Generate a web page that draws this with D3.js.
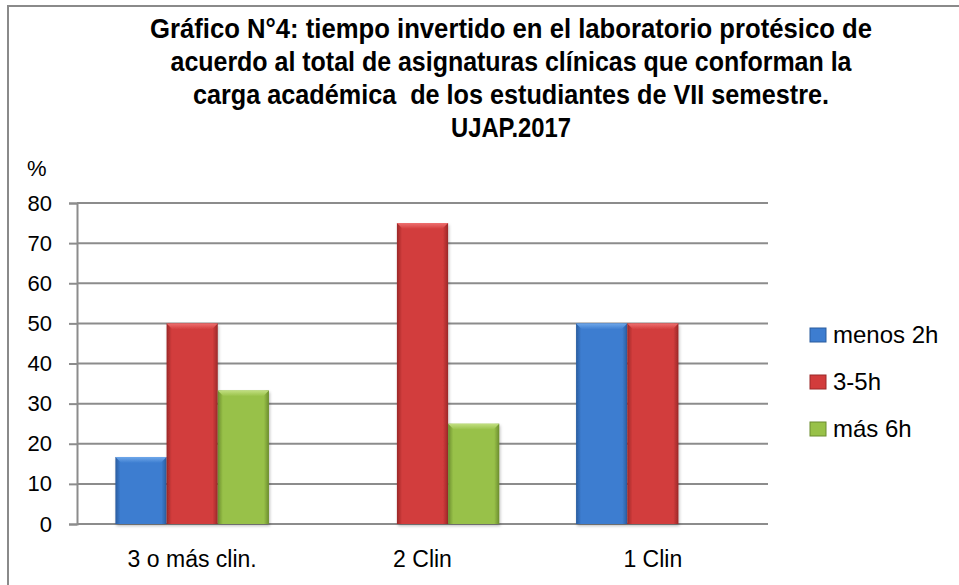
<!DOCTYPE html>
<html>
<head>
	<meta charset="utf-8">
	<title>Gráfico N°4</title>
	<script src="https://cdn.jsdelivr.net/npm/d3@7"></script>
	<style>
		body {
			margin: 0;
			background: #fff;
			font-family: "Liberation Sans", Arial, sans-serif;
		}
	</style>
</head>
<body>
	<div id="chart"></div>
	<script>

	// data

	const categories = ["3 o más clin.", "2 Clin", "1 Clin"];
	const series     = ["menos 2h", "3-5h", "más 6h"];
	const menos2h    = [16.7, 0, 50];
	const h3a5       = [50, 75, 50];
	const mas6h      = [33.3, 25, 0];
	const yTicks     = [0, 10, 20, 30, 40, 50, 60, 70, 80];
	const titleLines = [
		"Gráfico N°4: tiempo invertido en el laboratorio protésico de",
		"acuerdo al total de asignaturas clínicas que conforman la",
		"carga académica  de los estudiantes de VII semestre.",
		"UJAP.2017"
	];

	// customization

	const width  = 959;
	const height = 585;
	const titleWidths = [722, 681, 636, 120];
	const colors = [
		{ base: "#3d7dd0", edge: "#2a5c9e", light: "#6fa8ea" },
		{ base: "#d23c3c", edge: "#9a2828", light: "#ee7070" },
		{ base: "#98c148", edge: "#6b8c2e", light: "#c2df82" }
	];

	const values = [menos2h, h3a5, mas6h];
	const data = categories.map((c, i) => ({
		category: c,
		values: series.map((s, j) => ({ key: s, idx: j, value: values[j][i] }))
	}));

	const svg = d3.select("#chart")
		.append("svg")
		.attr("width", width)
		.attr("height", height);

	const defs = svg.append("defs");

	colors.forEach((c, i) => {
		const g = defs.append("linearGradient")
			.attr("id", "bar" + i)
			.attr("x1", 0).attr("x2", 1).attr("y1", 0).attr("y2", 0);
		g.append("stop").attr("offset", "0%").attr("stop-color", c.edge);
		g.append("stop").attr("offset", "10%").attr("stop-color", c.base);
		g.append("stop").attr("offset", "50%").attr("stop-color", c.base);
		g.append("stop").attr("offset", "90%").attr("stop-color", c.base);
		g.append("stop").attr("offset", "100%").attr("stop-color", c.edge);

		const t = defs.append("linearGradient")
			.attr("id", "top" + i)
			.attr("x1", 0).attr("x2", 0).attr("y1", 0).attr("y2", 1);
		t.append("stop").attr("offset", "0%").attr("stop-color", c.light);
		t.append("stop").attr("offset", "100%").attr("stop-color", c.base);
	});

	const shadow = defs.append("filter").attr("id", "shadow")
		.attr("x", "-10%").attr("y", "-10%").attr("width", "130%").attr("height", "130%");
	shadow.append("feDropShadow")
		.attr("dx", 1).attr("dy", 2).attr("stdDeviation", 1.5)
		.attr("flood-color", "#000").attr("flood-opacity", 0.25);

	// frame
	svg.append("rect")
		.attr("x", 8)
		.attr("y", 6)
		.attr("width", width + 20)
		.attr("height", height + 20)
		.attr("fill", "none")
		.attr("stroke", "#8a8a8a")
		.attr("stroke-width", 2);

	// title
	const title = svg.append("g")
		.attr("font-family", "'Liberation Sans Narrow', 'Liberation Sans', Arial, sans-serif")
		.attr("font-weight", "bold")
		.attr("font-size", 28)
		.attr("text-anchor", "middle")
		.attr("fill", "#000");

	title.selectAll("text")
		.data(titleLines)
		.join("text")
		.attr("x", 511)
		.attr("y", (d, i) => 38 + i * 33)
		.attr("textLength", (d, i) => titleWidths[i])
		.attr("lengthAdjust", "spacingAndGlyphs")
		.style("white-space", "pre")
		.text(d => d);

	// scales
	const x = d3.scaleBand()
		.domain(categories)
		.range([77, 768])
		.paddingInner(1 / 3)
		.paddingOuter(1 / 6);

	const xs = d3.scaleBand()
		.domain(series)
		.range([0, x.bandwidth()]);

	const y = d3.scaleLinear()
		.domain([0, 80])
		.range([524, 203]);

	// gridlines
	svg.append("g")
		.selectAll("line")
		.data(yTicks)
		.join("line")
		.attr("x1", 77)
		.attr("x2", 768)
		.attr("y1", d => y(d))
		.attr("y2", d => y(d))
		.attr("stroke", "#8c8c8c")
		.attr("stroke-width", 2);

	// y axis
	const yAxis = svg.append("g")
		.attr("transform", "translate(77,0)")
		.call(d3.axisLeft(y).tickValues(yTicks).tickSize(8).tickPadding(17).tickFormat(d3.format("d")));
	yAxis.select(".domain").attr("stroke", "#8c8c8c").attr("stroke-width", 2);
	yAxis.selectAll(".tick line").attr("stroke", "#8c8c8c").attr("stroke-width", 2);
	yAxis.selectAll(".tick text")
		.attr("font-family", "'Liberation Sans', Arial, sans-serif")
		.attr("font-size", 22)
		.attr("fill", "#000");

	svg.append("text")
		.attr("x", 27)
		.attr("y", 176)
		.attr("font-size", 22)
		.attr("fill", "#000")
		.text("%");

	// bars
	const group = svg.append("g")
		.selectAll("g")
		.data(data)
		.join("g")
		.attr("transform", d => `translate(${x(d.category)},0)`);

	const bar = group.selectAll("g")
		.data(d => d.values.filter(v => v.value > 0))
		.join("g")
		.attr("filter", "url(#shadow)");

	bar.append("rect")
		.attr("x", d => xs(d.key))
		.attr("y", d => y(d.value))
		.attr("width", xs.bandwidth())
		.attr("height", d => y(0) - y(d.value))
		.attr("fill", d => `url(#bar${d.idx})`);

	bar.append("path")
		.attr("d", d => {
			const x0 = xs(d.key), x1 = x0 + xs.bandwidth(), y0 = y(d.value), b = 6;
			return `M${x0},${y0}H${x1}L${x1 - b},${y0 + b}H${x0 + b}Z`;
		})
		.attr("fill", d => `url(#top${d.idx})`);

	// x labels
	svg.append("g")
		.selectAll("text")
		.data(categories)
		.join("text")
		.attr("x", d => x(d) + x.bandwidth() / 2)
		.attr("y", 567)
		.attr("text-anchor", "middle")
		.attr("font-size", 23)
		.attr("fill", "#000")
		.text(d => d);

	// legend
	const legend = svg.append("g")
		.selectAll("g")
		.data(series)
		.join("g")
		.attr("transform", (d, i) => `translate(810,${343 + i * 47})`);

	legend.append("rect")
		.attr("x", 0)
		.attr("y", -15)
		.attr("width", 16)
		.attr("height", 14)
		.attr("fill", (d, i) => colors[i].base)
		.attr("stroke", (d, i) => colors[i].edge)
		.attr("stroke-width", 1);

	legend.append("text")
		.attr("x", 23)
		.attr("y", 0)
		.attr("font-size", 24)
		.attr("fill", "#000")
		.text(d => d);

	</script>
</body>
</html>
